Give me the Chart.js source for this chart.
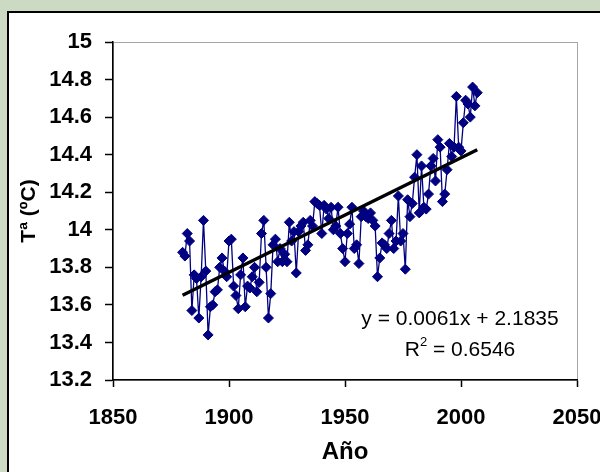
<!DOCTYPE html>
<html>
<head>
<meta charset="utf-8">
<script src="https://cdn.jsdelivr.net/npm/chart.js@4/dist/chart.umd.min.js"></script>
<style>
  html, body { margin: 0; padding: 0; background: #cddac3; }
  #wrap { width: 600px; height: 472px; }
</style>
</head>
<body>
<div id="wrap"><canvas id="c" width="600" height="472"></canvas></div>
<script>
// Global mean surface temperature, yearly, from 1880
const firstYear = 1880;
const temperatures = [
  13.88, 13.86, 13.98, 13.94, 13.57, 13.76, 13.74, 13.53, 13.75, 14.05,
  13.78, 13.44, 13.59, 13.60, 13.67, 13.68, 13.80, 13.85, 13.78, 13.75,
  13.94, 13.95, 13.70, 13.65, 13.58, 13.76, 13.85, 13.59, 13.70, 13.69,
  13.75, 13.80, 13.67, 13.72, 13.98, 14.05, 13.80, 13.53, 13.66, 13.92,
  13.95, 13.83, 13.90, 13.83, 13.87, 13.83, 14.04, 13.94, 13.99, 13.77,
  13.99, 14.02, 14.04, 13.89, 13.92, 14.05, 14.02, 14.15, 14.14, 14.13,
  13.98, 14.13, 14.11, 14.06, 14.12, 14.00, 14.02, 14.12, 13.98, 13.90,
  13.83, 13.98, 14.03, 14.12, 13.90, 13.92, 13.82, 14.07, 14.10, 14.07,
  14.06, 14.09, 14.05, 14.02, 13.75, 13.85, 13.93, 13.92, 13.90, 13.98,
  14.05, 13.90, 13.94, 14.18, 13.94, 13.98, 13.79, 14.16, 14.07, 14.14,
  14.28, 14.40, 14.09, 14.34, 14.12, 14.11, 14.19, 14.34, 14.38, 14.26,
  14.48, 14.44, 14.15, 14.19, 14.32, 14.46, 14.39, 14.44, 14.71, 14.44,
  14.42, 14.57, 14.69, 14.67, 14.60, 14.76, 14.66, 14.73
];
const years = temperatures.map((_, i) => firstYear + i);

// Linear trend as printed on the chart
const trendSlope = 0.0061;
const trendIntercept = 2.1835;
const trendR2 = 0.6546;

const xTicks = [1850, 1900, 1950, 2000, 2050];
const yTicks = [13.2, 13.4, 13.6, 13.8, 14, 14.2, 14.4, 14.6, 14.8, 15];

const points = years.map((y, i) => ({ x: y, y: temperatures[i] }));
const trendStart = years[0], trendEnd = years[years.length - 1];
const trendPoints = [
  { x: trendStart, y: trendSlope * trendStart + trendIntercept },
  { x: trendEnd, y: trendSlope * trendEnd + trendIntercept }
];

const FONT = 'Arial, "Liberation Sans", sans-serif';

const frame = {
  id: 'frame',
  beforeDraw(chart) {
    const ctx = chart.ctx;
    ctx.save();
    ctx.fillStyle = '#cddac3';
    ctx.fillRect(0, 0, chart.width, chart.height);
    ctx.fillStyle = '#ffffff';
    ctx.fillRect(9, 13, chart.width - 9, chart.height - 13);
    ctx.strokeStyle = '#000000';
    ctx.lineWidth = 2;
    ctx.beginPath();
    ctx.moveTo(8, chart.height);
    ctx.lineTo(8, 12);
    ctx.lineTo(chart.width, 12);
    ctx.stroke();
    // light plot-area border (top and right)
    const a = chart.chartArea;
    ctx.strokeStyle = '#a6a6a6';
    ctx.lineWidth = 1;
    ctx.strokeRect(a.left + 0.5, a.top + 0.5, a.right - a.left, a.bottom - a.top);
    ctx.restore();
  },
  afterDatasetsDraw(chart) {
    const ctx = chart.ctx;
    ctx.save();
    ctx.fillStyle = '#000000';
    ctx.textBaseline = 'middle';
    ctx.textAlign = 'center';
    ctx.font = '21px ' + FONT;
    ctx.fillText('y = ' + trendSlope.toFixed(4) + 'x + ' + trendIntercept.toFixed(4), 460, 319);
    // R² line with superscript
    const rest = ' = ' + trendR2.toFixed(4);
    ctx.font = '21px ' + FONT;
    const wR = ctx.measureText('R').width;
    const wRest = ctx.measureText(rest).width;
    ctx.font = '13px ' + FONT;
    const w2 = ctx.measureText('2').width;
    const total = wR + w2 + wRest;
    let x0 = 460 - total / 2;
    ctx.textAlign = 'left';
    ctx.font = '21px ' + FONT;
    ctx.fillText('R', x0, 350);
    ctx.font = '13px ' + FONT;
    ctx.fillText('2', x0 + wR, 342);
    ctx.font = '21px ' + FONT;
    ctx.fillText(rest, x0 + wR + w2, 350);
    ctx.restore();
  }
};

new Chart(document.getElementById('c'), {
  type: 'scatter',
  data: {
    datasets: [
      {
        label: 'Tendencia',
        data: trendPoints,
        showLine: true,
        borderColor: '#000000',
        borderWidth: 3.5,
        pointRadius: 0,
        order: 0
      },
      {
        label: 'Tª',
        data: points,
        showLine: true,
        borderColor: '#000080',
        borderWidth: 1.3,
        backgroundColor: '#000080',
        pointStyle: 'rectRot',
        pointRadius: 5,
        pointBorderWidth: 1,
        pointBorderColor: '#000080',
        pointBackgroundColor: '#000080',
        order: 1
      }
    ]
  },
  plugins: [frame],
  options: {
    responsive: false,
    animation: false,
    events: [],
    layout: { padding: { left: 9, top: 42, right: 23, bottom: 0 } },
    plugins: { legend: { display: false }, tooltip: { enabled: false } },
    scales: {
      x: {
        type: 'linear',
        min: 1850, max: 2050,
        afterBuildTicks(scale) { scale.ticks = xTicks.map(v => ({ value: v })); },
        afterFit(scale) { scale.height = 92; scale.paddingLeft = 0; scale.paddingRight = 0; },
        border: { color: '#000000', width: 1.5 },
        grid: { drawOnChartArea: false, drawTicks: true, tickLength: 7, tickColor: '#000000', tickWidth: 1.5 },
        ticks: {
          color: '#000000', padding: 18, maxRotation: 0, autoSkip: false,
          font: { family: FONT, size: 22, weight: 'bold' },
          callback: v => String(v)
        },
        title: {
          display: true, text: 'Año', color: '#000000',
          font: { family: FONT, size: 24, weight: 'bold' },
          padding: { top: 0, bottom: 5 }
        }
      },
      y: {
        type: 'linear',
        min: 13.2, max: 15,
        afterBuildTicks(scale) { scale.ticks = yTicks.map(v => ({ value: v })); },
        afterFit(scale) { scale.width = 104; scale.paddingTop = 0; scale.paddingBottom = 0; },
        border: { color: '#000000', width: 1.5 },
        grid: { drawOnChartArea: false, drawTicks: true, tickLength: 8, tickColor: '#000000', tickWidth: 1.5 },
        ticks: {
          color: '#000000', padding: 13, autoSkip: false,
          font: { family: FONT, size: 22, weight: 'bold' },
          callback: v => String(Math.round(v * 10) / 10)
        },
        title: {
          display: true, text: 'Tª (ºC)', color: '#000000',
          font: { family: FONT, size: 21, weight: 'bold' },
          padding: { top: 8, bottom: 0 }
        }
      }
    }
  }
});
</script>
</body>
</html>
